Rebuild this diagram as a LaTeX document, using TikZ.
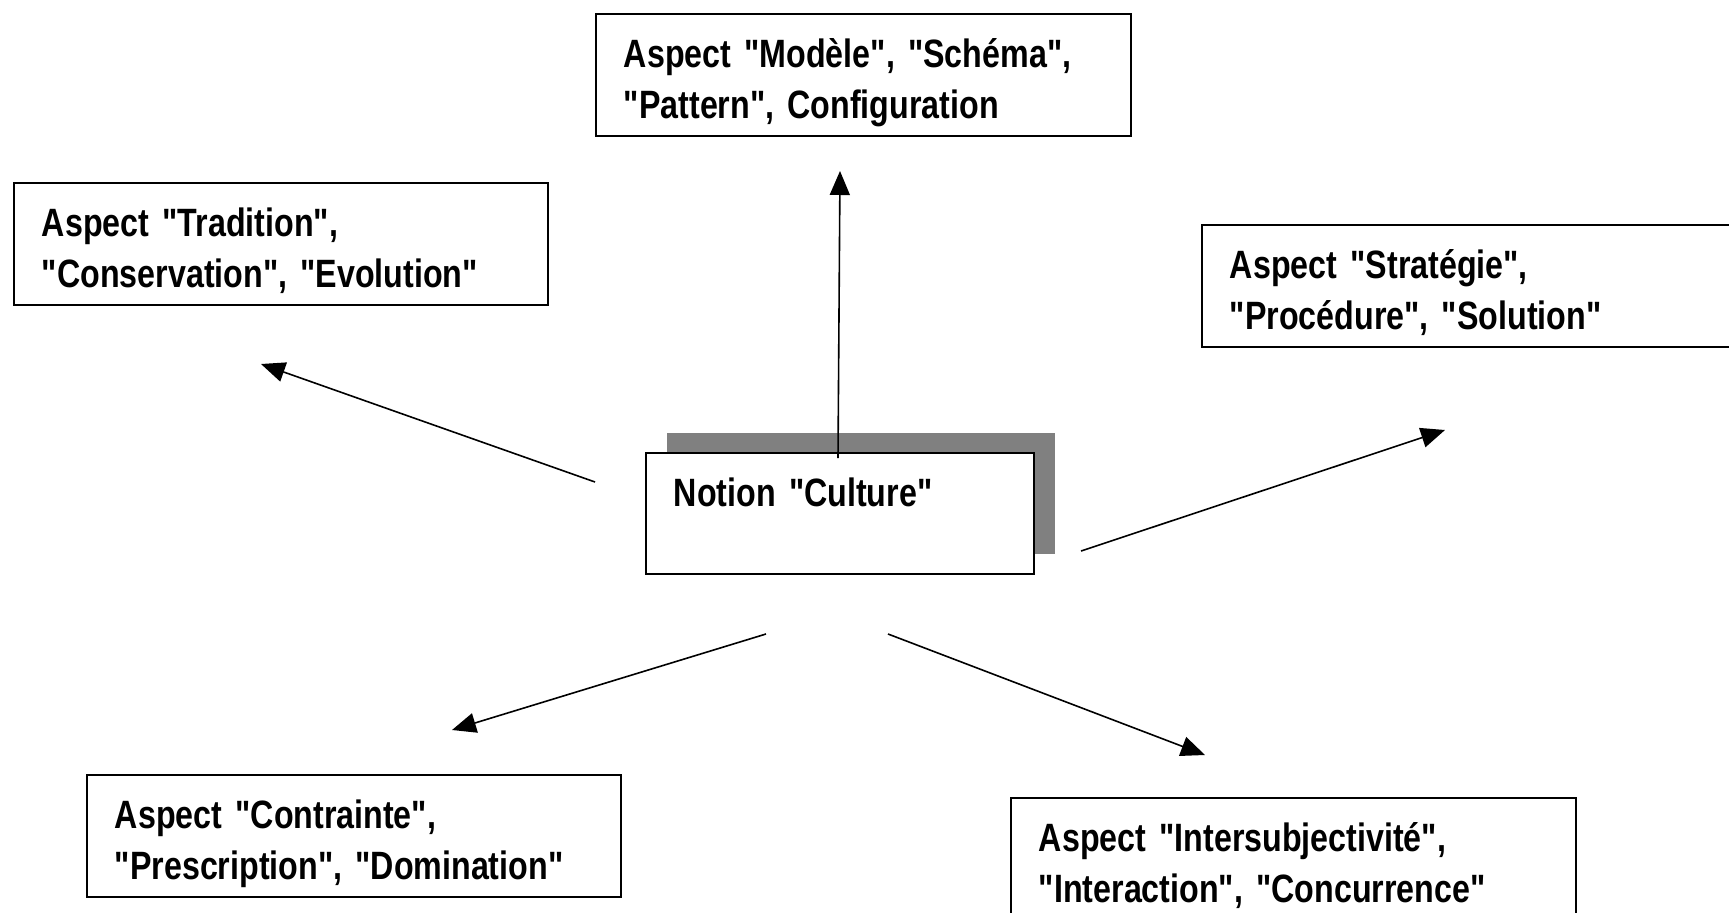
\documentclass[tikz,border=0pt]{standalone}
\usepackage{fontspec}
\setmainfont{Liberation Sans}[FakeStretch=0.815, Ligatures=TeXOff]
\usetikzlibrary{arrows.meta,shadows}

\begin{document}
\begin{tikzpicture}[x=0.02cm, y=-0.02cm,
		aspect/.style={draw, line width=0.38mm, rectangle, anchor=north west, align=left,
			inner xsep=0.56cm, inner ysep=0.1cm, minimum height=2.44cm, text height=0.8cm, text depth=1.08cm,
			font=\fontsize{22.5}{28.5}\selectfont\bfseries},
		pointer/.style={line width=0.32mm, -{Triangle[length=4.8mm, width=4mm]}}]
	\useasboundingbox (0,0) rectangle (1729,913);

	\node[aspect, text width=9.58cm] (modele) at (595,13) {Aspect "Modèle", "Schéma",\\"Pattern", Configuration};
	\node[aspect, text width=9.56cm] (tradition) at (13,182) {Aspect "Tradition",\\"Conservation", "Evolution"};
	\node[aspect, text width=10.88cm] (strategie) at (1201,224) {Aspect "Stratégie",\\"Procédure", "Solution"};
	\node[aspect, text width=9.56cm] (contrainte) at (86,774) {Aspect "Contrainte",\\"Prescription", "Domination"};
	\node[aspect, text width=10.18cm] (intersubj) at (1010,797) {Aspect "Intersubjectivité",\\"Interaction", "Concurrence"};

	% central notion with its grey shadow up and to the right
	\node[aspect, fill=white, text width=6.64cm, minimum height=2.42cm,
		general shadow={fill=black!50, shadow xshift=0.42cm, shadow yshift=0.4cm}] (culture) at (645,452) {Notion "Culture"};

	\coordinate (up0) at (838,458);   \coordinate (up1) at (840,171);
	\coordinate (tl0) at (595,482);   \coordinate (tl1) at (261,364);
	\coordinate (tr0) at (1081,551);  \coordinate (tr1) at (1445,430);
	\coordinate (bl0) at (766,634);   \coordinate (bl1) at (452,730);
	\coordinate (br0) at (888,634);   \coordinate (br1) at (1205,755);

	\draw[pointer] (up0) -- (up1);
	\draw[pointer] (tl0) -- (tl1);
	\draw[pointer] (tr0) -- (tr1);
	\draw[pointer] (bl0) -- (bl1);
	\draw[pointer] (br0) -- (br1);
\end{tikzpicture}
\end{document}
